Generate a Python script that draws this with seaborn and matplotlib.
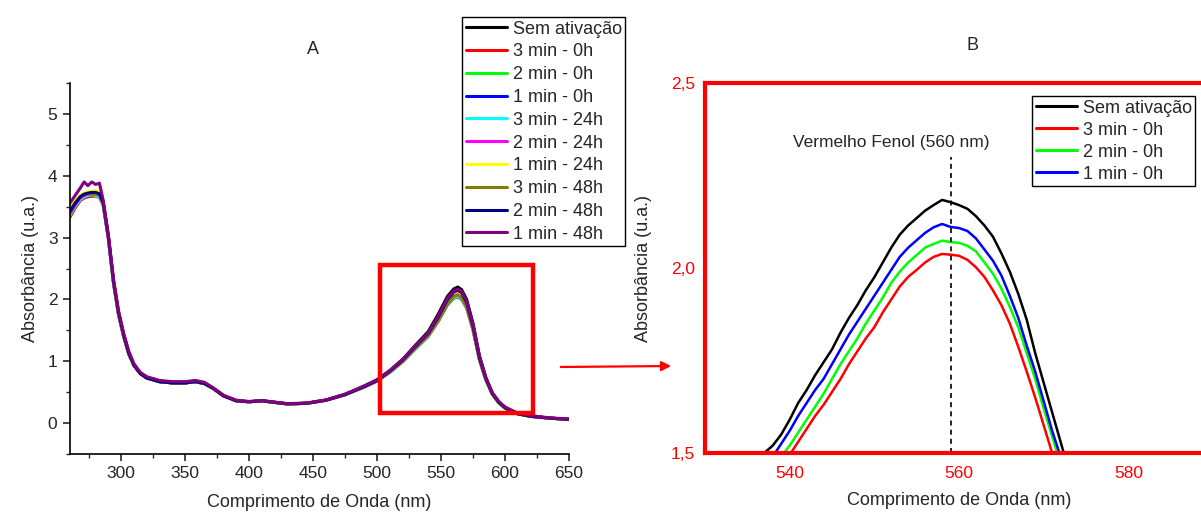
import matplotlib
matplotlib.use("Agg")
import matplotlib.pyplot as plt
from matplotlib.patches import Rectangle
import numpy as np
import pandas as pd
import seaborn as sns

# ---------------- data ----------------
series_names = ["Sem ativação", "3 min - 0h", "2 min - 0h", "1 min - 0h",
                "3 min - 24h", "2 min - 24h", "1 min - 24h",
                "3 min - 48h", "2 min - 48h", "1 min - 48h"]
series_colors = ["#000000", "#FF0000", "#00FF00", "#0000FF", "#00FFFF",
                 "#FF00FF", "#FFFF00", "#808000", "#000080", "#800080"]

wl_A = [260, 264, 268, 271, 274, 277, 280, 283, 286,
        290, 294, 298, 302, 306, 310, 315, 320, 330, 340, 350, 358, 365, 372,
        380, 390, 400, 410, 418, 430, 445, 460, 475, 490, 500, 510, 520, 530,
        540, 548, 555, 560, 563, 566, 570, 575, 580,
        585, 590, 595, 600, 610, 620, 635, 650]

abs_sem = [3.40, 3.54, 3.65, 3.69, 3.71, 3.72, 3.72, 3.70, 3.55,
           3.00, 2.28, 1.77, 1.41, 1.12, 0.93, 0.80, 0.73, 0.67, 0.65, 0.65, 0.67, 0.64, 0.56,
           0.44, 0.36, 0.345, 0.36, 0.34, 0.31, 0.32, 0.37, 0.46, 0.60, 0.70, 0.85, 1.03, 1.26,
           1.48, 1.77, 2.05, 2.17, 2.20, 2.16, 2.00, 1.61, 1.09,
           0.74, 0.49, 0.35, 0.25, 0.15, 0.11, 0.08, 0.06]
abs_3m0 = [3.33, 3.48, 3.60, 3.64, 3.66, 3.67, 3.67, 3.65, 3.52,
           2.98, 2.26, 1.74, 1.39, 1.11, 0.93, 0.80, 0.74, 0.68, 0.66, 0.66, 0.67, 0.64, 0.56,
           0.44, 0.36, 0.345, 0.36, 0.34, 0.31, 0.32, 0.37, 0.46, 0.58, 0.68, 0.82, 0.99, 1.20,
           1.40, 1.65, 1.91, 2.02, 2.04, 2.00, 1.86, 1.50, 1.02,
           0.70, 0.47, 0.33, 0.24, 0.15, 0.11, 0.08, 0.06]
abs_2m0 = [3.36, 3.51, 3.62, 3.66, 3.68, 3.69, 3.69, 3.67, 3.53,
           2.99, 2.27, 1.75, 1.40, 1.12, 0.93, 0.80, 0.73, 0.67, 0.65, 0.65, 0.67, 0.64, 0.56,
           0.44, 0.36, 0.345, 0.36, 0.34, 0.31, 0.32, 0.37, 0.46, 0.59, 0.68, 0.83, 1.00, 1.21,
           1.42, 1.68, 1.94, 2.06, 2.08, 2.04, 1.89, 1.53, 1.03,
           0.71, 0.47, 0.33, 0.24, 0.15, 0.11, 0.08, 0.06]
abs_1m0 = [3.38, 3.52, 3.63, 3.67, 3.69, 3.70, 3.70, 3.68, 3.54,
           3.00, 2.28, 1.76, 1.41, 1.12, 0.93, 0.80, 0.73, 0.67, 0.65, 0.65, 0.67, 0.64, 0.56,
           0.44, 0.36, 0.345, 0.36, 0.34, 0.31, 0.32, 0.37, 0.46, 0.59, 0.69, 0.84, 1.01, 1.23,
           1.44, 1.70, 1.97, 2.09, 2.12, 2.08, 1.92, 1.55, 1.05,
           0.72, 0.48, 0.34, 0.25, 0.15, 0.11, 0.08, 0.06]
abs_3m24 = [3.37, 3.51, 3.62, 3.66, 3.68, 3.70, 3.68, 3.66, 3.53,
            2.99, 2.27, 1.75, 1.40, 1.12, 0.93, 0.80, 0.73, 0.67, 0.65, 0.65, 0.67, 0.64, 0.56,
            0.44, 0.36, 0.345, 0.36, 0.34, 0.31, 0.32, 0.37, 0.46, 0.58, 0.68, 0.82, 0.99, 1.20,
            1.41, 1.66, 1.92, 2.03, 2.05, 2.01, 1.87, 1.51, 1.02,
            0.70, 0.47, 0.33, 0.24, 0.15, 0.11, 0.08, 0.06]
abs_2m24 = [3.39, 3.53, 3.64, 3.68, 3.70, 3.71, 3.71, 3.69, 3.55,
            3.00, 2.28, 1.76, 1.41, 1.12, 0.93, 0.80, 0.73, 0.67, 0.65, 0.65, 0.67, 0.64, 0.56,
            0.44, 0.36, 0.345, 0.36, 0.34, 0.31, 0.32, 0.37, 0.46, 0.59, 0.68, 0.83, 1.00, 1.22,
            1.43, 1.69, 1.95, 2.07, 2.09, 2.05, 1.90, 1.54, 1.04,
            0.71, 0.48, 0.34, 0.25, 0.15, 0.11, 0.08, 0.06]
abs_1m24 = [3.50, 3.60, 3.68, 3.72, 3.74, 3.75, 3.76, 3.75, 3.58,
            3.02, 2.30, 1.78, 1.42, 1.13, 0.94, 0.81, 0.74, 0.68, 0.66, 0.66, 0.67, 0.64, 0.56,
            0.44, 0.36, 0.345, 0.36, 0.34, 0.31, 0.32, 0.37, 0.46, 0.59, 0.69, 0.84, 1.01, 1.23,
            1.45, 1.71, 1.98, 2.10, 2.13, 2.09, 1.93, 1.56, 1.05,
            0.72, 0.48, 0.34, 0.25, 0.15, 0.11, 0.08, 0.06]
abs_3m48 = [3.44, 3.57, 3.66, 3.70, 3.71, 3.70, 3.70, 3.69, 3.55,
            3.01, 2.29, 1.77, 1.41, 1.12, 0.93, 0.80, 0.73, 0.67, 0.65, 0.65, 0.67, 0.64, 0.56,
            0.44, 0.36, 0.345, 0.36, 0.34, 0.31, 0.32, 0.37, 0.46, 0.59, 0.68, 0.83, 1.00, 1.21,
            1.42, 1.67, 1.93, 2.05, 2.07, 2.03, 1.88, 1.52, 1.03,
            0.71, 0.47, 0.33, 0.24, 0.15, 0.11, 0.08, 0.06]
abs_2m48 = [3.42, 3.55, 3.66, 3.70, 3.72, 3.73, 3.73, 3.71, 3.56,
            3.02, 2.30, 1.78, 1.42, 1.13, 0.94, 0.80, 0.73, 0.67, 0.65, 0.65, 0.67, 0.64, 0.56,
            0.44, 0.36, 0.345, 0.36, 0.34, 0.31, 0.32, 0.37, 0.46, 0.59, 0.69, 0.84, 1.02, 1.24,
            1.45, 1.72, 2.00, 2.12, 2.15, 2.11, 1.95, 1.57, 1.06,
            0.72, 0.48, 0.34, 0.25, 0.15, 0.11, 0.08, 0.06]
abs_1m48 = [3.56, 3.68, 3.80, 3.90, 3.84, 3.90, 3.86, 3.88, 3.60,
            3.04, 2.33, 1.81, 1.45, 1.16, 0.96, 0.82, 0.75, 0.69, 0.67, 0.67, 0.69, 0.66, 0.57,
            0.45, 0.37, 0.35, 0.365, 0.345, 0.315, 0.325, 0.375, 0.47, 0.60, 0.70, 0.85, 1.03, 1.25,
            1.46, 1.74, 2.02, 2.14, 2.17, 2.13, 1.97, 1.59, 1.07,
            0.73, 0.49, 0.35, 0.26, 0.16, 0.12, 0.085, 0.065]

abs_A = [abs_sem, abs_3m0, abs_2m0, abs_1m0, abs_3m24, abs_2m24,
         abs_1m24, abs_3m48, abs_2m48, abs_1m48]

# zoomed detail (panel B)
wl_B = list(range(536, 575))
b_sem = [1.46, 1.50, 1.52, 1.55, 1.59, 1.635, 1.67, 1.71, 1.745, 1.78,
         1.825, 1.865, 1.90, 1.94, 1.975, 2.015, 2.055, 2.09, 2.115, 2.135,
         2.155, 2.17, 2.184, 2.178, 2.17, 2.16, 2.14, 2.115, 2.085, 2.04,
         1.99, 1.93, 1.86, 1.77, 1.69, 1.61, 1.53, 1.45, 1.37]
b_3m0 = [1.33, 1.37, 1.41, 1.45, 1.495, 1.53, 1.565, 1.60, 1.63, 1.665,
         1.70, 1.74, 1.775, 1.81, 1.84, 1.88, 1.915, 1.95, 1.976, 1.995,
         2.015, 2.03, 2.038, 2.036, 2.033, 2.022, 2.002, 1.976, 1.94, 1.90,
         1.85, 1.787, 1.72, 1.65, 1.575, 1.50, 1.43, 1.36, 1.29]
b_2m0 = [1.36, 1.40, 1.44, 1.49, 1.52, 1.555, 1.59, 1.625, 1.66, 1.70,
         1.74, 1.775, 1.81, 1.85, 1.885, 1.92, 1.96, 1.99, 2.015, 2.035,
         2.055, 2.065, 2.074, 2.07, 2.068, 2.06, 2.045, 2.015, 1.985, 1.945,
         1.895, 1.84, 1.77, 1.70, 1.62, 1.545, 1.47, 1.40, 1.33]
b_1m0 = [1.40, 1.44, 1.49, 1.525, 1.56, 1.60, 1.635, 1.67, 1.70, 1.74,
         1.78, 1.82, 1.855, 1.89, 1.925, 1.96, 1.995, 2.03, 2.055, 2.075,
         2.095, 2.11, 2.119, 2.111, 2.108, 2.10, 2.08, 2.05, 2.02, 1.98,
         1.925, 1.865, 1.79, 1.72, 1.64, 1.56, 1.49, 1.42, 1.35]
abs_B = [b_sem, b_3m0, b_2m0, b_1m0]

a_xticks = [300, 350, 400, 450, 500, 550, 600, 650]
a_yticks = [0, 1, 2, 3, 4, 5]
b_xticks = [540, 560, 580]
b_yticks = [1.5, 2.0, 2.5]
b_yticklabels = ["1,5", "2,0", "2,5"]
marker_wl = 559
marker_label = "Vermelho Fenol (560 nm)"

# ---------------- figure ----------------
sns.set_style("white")
plt.rcParams["font.family"] = ["Liberation Sans", "DejaVu Sans"]
plt.rcParams["font.size"] = 13

W, H = 1201, 514
fig = plt.figure(figsize=(W / 100, H / 100), dpi=100)

def fx(px):
    return px / W

def fy(py):
    return 1 - py / H

# ---- panel A ----
axA = fig.add_axes([fx(70), fy(454), fx(569) - fx(70), fy(83) - fy(454)])
rows = []
for name, vals in zip(series_names, abs_A):
    for w, v in zip(wl_A, vals):
        rows.append((name, w, v))
dfA = pd.DataFrame(rows, columns=["serie", "wl", "abs"])
sns.lineplot(data=dfA, x="wl", y="abs", hue="serie", hue_order=series_names,
             palette=series_colors, estimator=None, sort=False, lw=2.2,
             legend=False, ax=axA)
axA.set_xlim(260, 650)
axA.set_ylim(-0.5, 5.5)
axA.set_xticks(a_xticks)
axA.set_yticks(a_yticks)
axA.set_xticks(np.arange(275, 650, 50), minor=True)
axA.set_yticks(np.arange(-0.5, 5.6, 1.0), minor=True)
for s in ["top", "right"]:
    axA.spines[s].set_visible(False)
for s in ["left", "bottom"]:
    axA.spines[s].set_color("black")
    axA.spines[s].set_linewidth(1.2)
axA.tick_params(which="major", direction="out", length=5, width=1.2,
                labelsize=12.5, left=True, bottom=True, pad=4)
axA.tick_params(which="minor", direction="out", length=3, width=1.0,
                left=True, bottom=True)
axA.set_xlabel("Comprimento de Onda (nm)", fontsize=13, labelpad=9)
axA.set_ylabel("Absorbância (u.a.)", fontsize=13, labelpad=6)
axA.add_patch(Rectangle((502, 0.155), 120, 2.395, fill=False,
                        edgecolor="#FF0000", lw=3.2, zorder=5, clip_on=False))

handlesA = [plt.Line2D([], [], color=c, lw=2.2) for c in series_colors]
legA = fig.legend(handlesA, series_names, loc="upper left",
                  bbox_to_anchor=(fx(462), fy(17)), bbox_transform=fig.transFigure,
                  frameon=True, fancybox=False, edgecolor="black", framealpha=1,
                  fontsize=13, handlelength=2.3, handletextpad=0.3,
                  borderpad=0.2, labelspacing=0.32, borderaxespad=0)
legA.get_frame().set_linewidth(1.0)

fig.text(fx(313), fy(50), "A", ha="center", va="center", fontsize=13)

# ---- panel B ----
axB = fig.add_axes([fx(705), fy(453), fx(1213) - fx(705), fy(83) - fy(453)])
rowsB = []
for name, vals in zip(series_names[:4], abs_B):
    for w, v in zip(wl_B, vals):
        rowsB.append((name, w, v))
dfB = pd.DataFrame(rowsB, columns=["serie", "wl", "abs"])
sns.lineplot(data=dfB, x="wl", y="abs", hue="serie", hue_order=series_names[:4],
             palette=series_colors[:4], estimator=None, sort=False, lw=1.8,
             legend=False, ax=axB)
axB.set_xlim(530, 590)
axB.set_ylim(1.5, 2.5)
axB.set_xticks(b_xticks)
axB.set_yticks(b_yticks)
axB.set_yticklabels(b_yticklabels)
for s in axB.spines.values():
    s.set_color("#FF0000")
    s.set_linewidth(3)
    s.set_zorder(6)
axB.tick_params(length=0, labelsize=12.5, labelcolor="#FF0000", pad=9)
axB.tick_params(axis="y", pad=7)
axB.set_xlabel("Comprimento de Onda (nm)", fontsize=13, labelpad=8)
axB.set_ylabel("Absorbância (u.a.)", fontsize=13, labelpad=14)
axB.plot([marker_wl, marker_wl], [1.5, 2.3], color="black", lw=1.2,
         ls=(0, (3, 2.5)))
axB.text(552.0, 2.34, marker_label, ha="center", va="center", fontsize=12.5)

handlesB = [plt.Line2D([], [], color=c, lw=2.2) for c in series_colors[:4]]
legB = fig.legend(handlesB, series_names[:4], loc="upper left",
                  bbox_to_anchor=(fx(1032), fy(96)), bbox_transform=fig.transFigure,
                  frameon=True, fancybox=False, edgecolor="black", framealpha=1,
                  fontsize=13, handlelength=2.3, handletextpad=0.3,
                  borderpad=0.2, labelspacing=0.28, borderaxespad=0)
legB.get_frame().set_linewidth(1.0)

fig.text(fx(972), fy(45), "B", ha="center", va="center", fontsize=13)

# arrow between panels
fig.add_artist(matplotlib.patches.FancyArrowPatch(
    (fx(558), fy(367)), (fx(674), fy(366)), transform=fig.transFigure,
    arrowstyle="-|>", mutation_scale=14, color="#FF0000", lw=1.6))

fig.savefig("out.png", dpi=100)
